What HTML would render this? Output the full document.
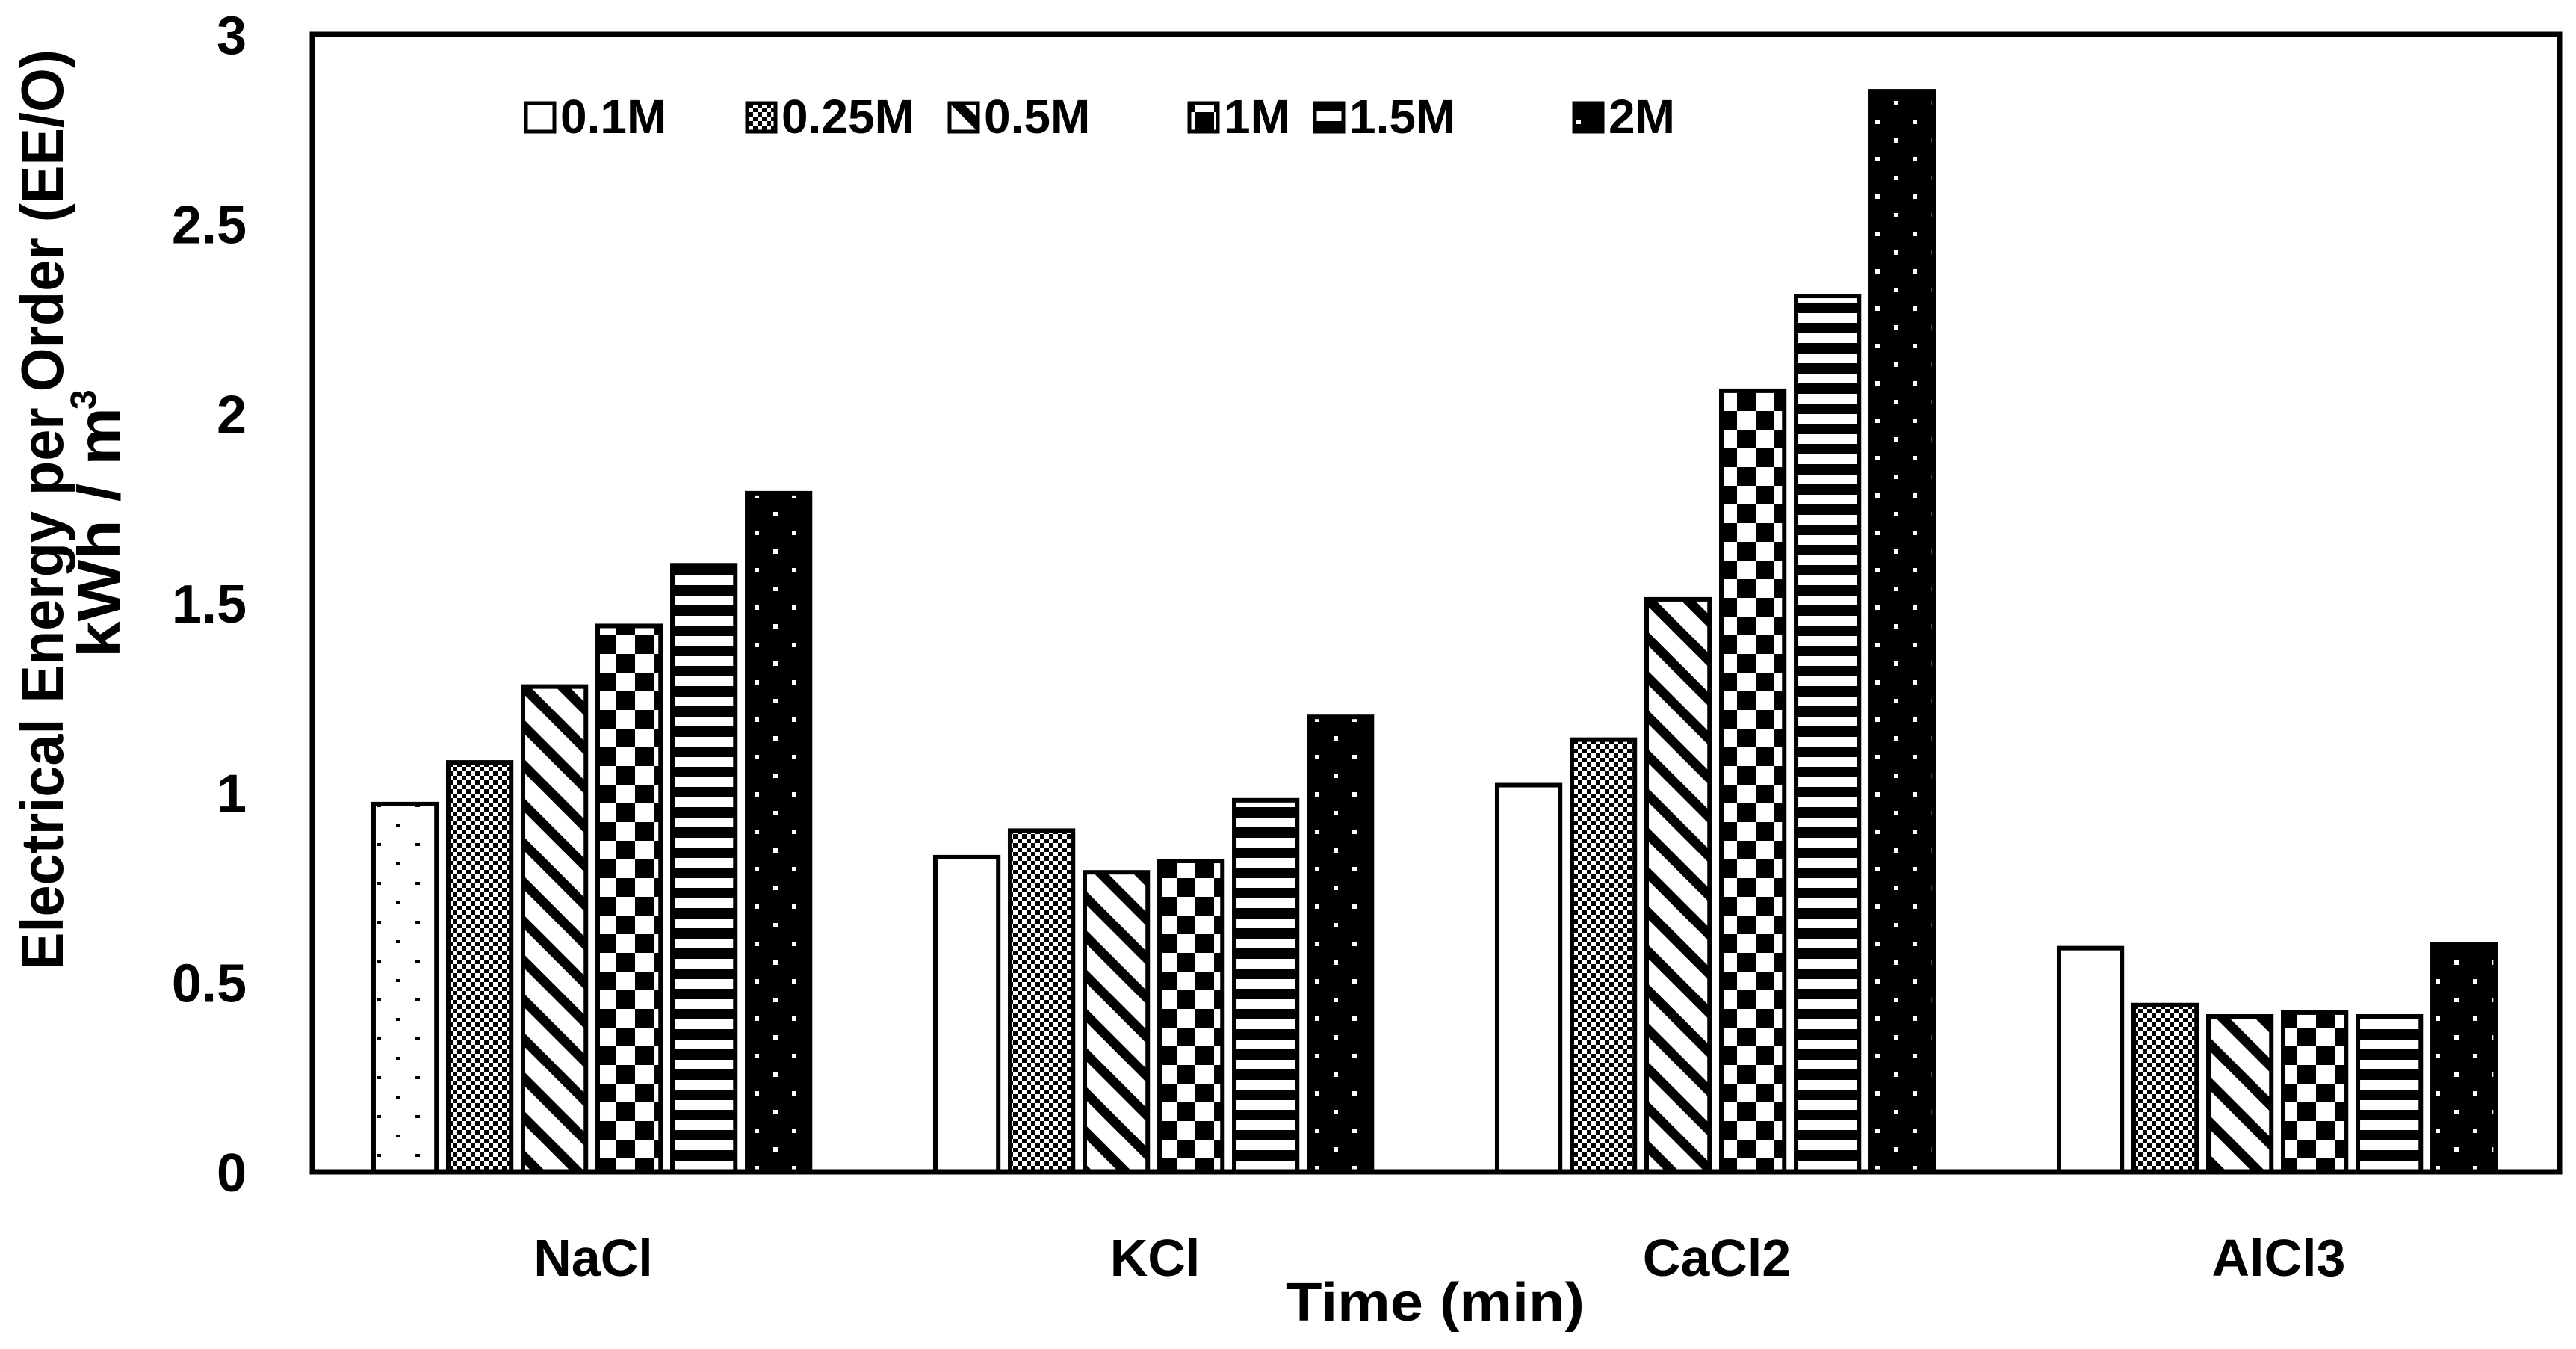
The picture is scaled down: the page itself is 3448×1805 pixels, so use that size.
<!DOCTYPE html>
<html><head><meta charset="utf-8"><style>
html,body{margin:0;padding:0;background:#fff;}
svg{display:block;}
text{font-family:"Liberation Sans",sans-serif;font-weight:bold;fill:#000;}
</style></head><body>
<svg id="chart" width="3448" height="1805" viewBox="0 0 3448 1805" xmlns="http://www.w3.org/2000/svg">
<defs>
<pattern id="p0" patternUnits="userSpaceOnUse" width="52" height="52"><rect width="52" height="52" fill="#fff"/><rect x="10" y="10" width="6" height="4" fill="#000"/><rect x="36" y="36" width="6" height="4" fill="#000"/></pattern>
<pattern id="p1" patternUnits="userSpaceOnUse" width="12" height="12"><rect width="12" height="12" fill="#fff"/><rect width="6" height="6" fill="#000"/><rect x="6" y="6" width="6" height="6" fill="#000"/></pattern>
<pattern id="p2" patternUnits="userSpaceOnUse" width="37" height="37" patternTransform="rotate(45)"><rect width="37" height="37" fill="#fff"/><rect x="0" y="0" width="37" height="13" fill="#000"/></pattern>
<pattern id="p3" patternUnits="userSpaceOnUse" width="50" height="50"><rect width="50" height="50" fill="#fff"/><rect width="25" height="25" fill="#000"/><rect x="25" y="25" width="25" height="25" fill="#000"/></pattern>
<pattern id="p4" patternUnits="userSpaceOnUse" width="27" height="27"><rect width="27" height="27" fill="#fff"/><rect width="27" height="14" fill="#000"/></pattern>
<pattern id="p5" patternUnits="userSpaceOnUse" width="50" height="50"><rect width="50" height="50" fill="#000"/><rect x="10" y="10" width="6" height="6" fill="#fff"/><rect x="35" y="35" width="6" height="6" fill="#fff"/></pattern>
</defs>
<g id="bars"></g>
<rect x="418" y="46" width="3008" height="1522" fill="none" stroke="#000" stroke-width="7"/>
<g id="yticks"></g>
<g id="xlabels"></g>
<g id="legend"></g>
<text transform="translate(84,682) rotate(-90)" text-anchor="middle" font-size="80" textLength="1232" lengthAdjust="spacingAndGlyphs">Electrical Energy per Order (EE/O)</text>
<text transform="translate(160,880) rotate(-90)" font-size="80" textLength="335" lengthAdjust="spacingAndGlyphs">kWh / m</text>
<text transform="translate(128,548) rotate(-90)" font-size="48">3</text>
<text x="1921" y="1767" text-anchor="middle" font-size="72" textLength="400" lengthAdjust="spacingAndGlyphs">Time (min)</text>
</svg>
<script>
const categories = ["NaCl","KCl","CaCl2","AlCl3"];
const seriesNames = ["0.1M","0.25M","0.5M","1M","1.5M","2M"];
const s01 = [0.97, 0.83, 1.02, 0.59];
const s025 = [1.08, 0.90, 1.14, 0.44];
const s05 = [1.28, 0.79, 1.51, 0.41];
const s1 = [1.44, 0.82, 2.06, 0.42];
const s15 = [1.60, 0.98, 2.31, 0.41];
const s2 = [1.79, 1.20, 2.85, 0.60];
const yTicks = ["0","0.5","1","1.5","2","2.5","3"];
const yTickValues = [0,0.5,1,1.5,2,2.5,3];

const NS = "http://www.w3.org/2000/svg";
const plotL = 418, plotR = 3426, plotT = 46, plotB = 1568, yMax = 3;
const groupW = (plotR - plotL) / categories.length;
function yScale(v){ return plotB - (v / yMax) * (plotB - plotT); }
function xGroup(g){ return plotL + g * groupW; }
function xBar(g, i){ return xGroup(g) + groupW * 0.109 + i * groupW * 0.133; }
const barW = groupW * 0.112;
const series = [s01, s025, s05, s1, s15, s2];
const fills = ["url(#p0)","url(#p1)","url(#p2)","url(#p3)","url(#p4)","url(#p5)"];

const barsG = document.getElementById('bars');
series.forEach((vals, i) => {
  vals.forEach((v, g) => {
    const r = document.createElementNS(NS, 'rect');
    
    
    r.setAttribute('x', xBar(g, i));
    r.setAttribute('y', yScale(v));
    r.setAttribute('width', barW);
    r.setAttribute('height', plotB - yScale(v));
    r.setAttribute('fill', (i === 0 && g > 0) ? '#fff' : fills[i]);
    r.setAttribute('stroke', '#000');
    r.setAttribute('stroke-width', '6');
    barsG.appendChild(r);
  });
});

const yt = document.getElementById('yticks');
yTickValues.forEach((v, k) => {
  const t = document.createElementNS(NS, 'text');
  
  
  t.setAttribute('x', 330);
  t.setAttribute('y', yScale(v) + 26);
  t.setAttribute('text-anchor', 'end');
  t.setAttribute('font-size', '72');
  t.textContent = yTicks[k];
  yt.appendChild(t);
});

const xl = document.getElementById('xlabels');
categories.forEach((c, g) => {
  const t = document.createElementNS(NS, 'text');
  
  
  t.setAttribute('x', xGroup(g) + groupW / 2);
  t.setAttribute('y', 1707);
  t.setAttribute('text-anchor', 'middle');
  t.setAttribute('font-size', '70');
  t.textContent = c;
  xl.appendChild(t);
});

const legendX = [704, 1000, 1271, 1592, 1760, 2107];
const lg = document.getElementById('legend');
seriesNames.forEach((n, i) => {
  const b = document.createElementNS(NS, 'rect');
  
  
  b.setAttribute('x', legendX[i]);
  b.setAttribute('y', 138);
  b.setAttribute('width', 38);
  b.setAttribute('height', 38);
  b.setAttribute('fill', i === 0 ? '#fff' : fills[i]);
  b.setAttribute('stroke', '#000');
  b.setAttribute('stroke-width', '5');
  lg.appendChild(b);
  const t = document.createElementNS(NS, 'text');
  
  
  t.setAttribute('x', legendX[i] + 46);
  t.setAttribute('y', 178);
  t.setAttribute('font-size', '64');
  t.textContent = n;
  lg.appendChild(t);
});
</script>
</body></html>
